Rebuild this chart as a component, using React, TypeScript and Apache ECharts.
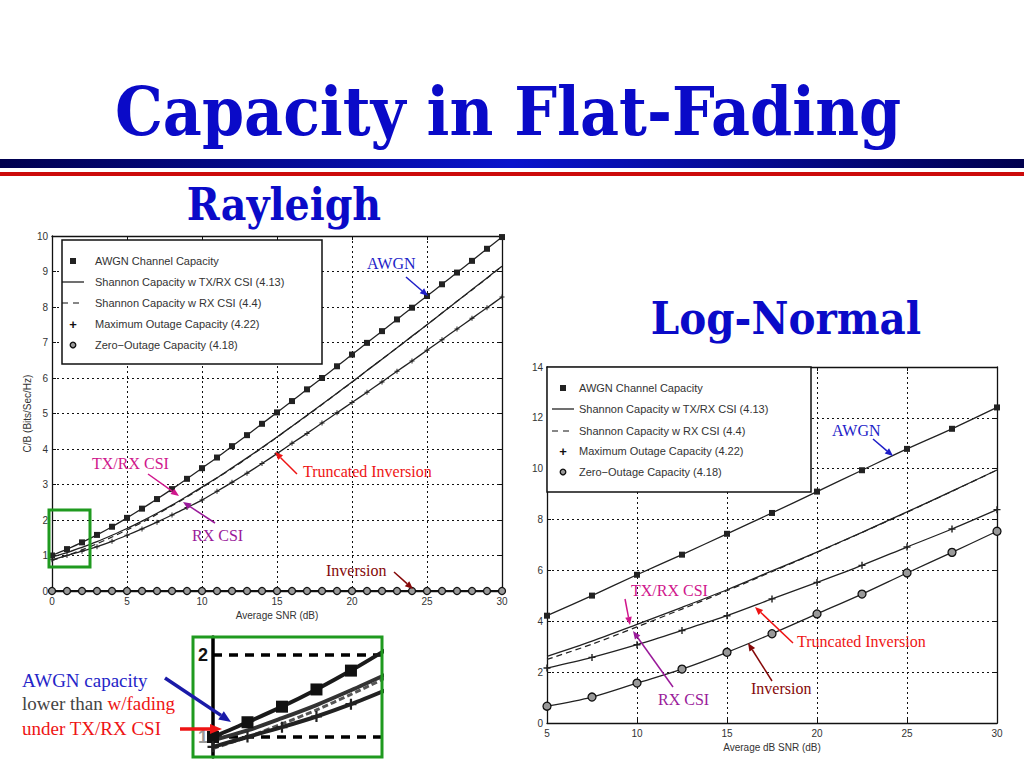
import React, { useEffect, useRef } from "react";
import * as echarts from "echarts";

// ---- Rayleigh panel: capacity (bits/s/Hz) vs average SNR (dB), one point per dB ----
const rayX = [0, 1, 2, 3, 4, 5, 6, 7, 8, 9, 10, 11, 12, 13, 14, 15, 16, 17, 18, 19, 20, 21, 22, 23, 24, 25, 26, 27, 28, 29, 30];
const rayAwgn = [1.0, 1.18, 1.37, 1.58, 1.81, 2.06, 2.32, 2.59, 2.87, 3.16, 3.46, 3.76, 4.08, 4.39, 4.71, 5.03, 5.35, 5.68, 6.0, 6.33, 6.66, 6.99, 7.32, 7.65, 7.98, 8.31, 8.64, 8.97, 9.3, 9.64, 9.97];
const rayTxRx = [0.96, 1.08, 1.23, 1.39, 1.57, 1.76, 1.97, 2.19, 2.42, 2.67, 2.93, 3.19, 3.47, 3.75, 4.04, 4.34, 4.64, 4.95, 5.26, 5.57, 5.89, 6.21, 6.53, 6.85, 7.18, 7.5, 7.83, 8.16, 8.49, 8.82, 9.15];
const rayRx = [0.86, 1.0, 1.16, 1.33, 1.52, 1.72, 1.93, 2.16, 2.4, 2.65, 2.91, 3.18, 3.45, 3.74, 4.03, 4.33, 4.64, 4.94, 5.25, 5.57, 5.88, 6.21, 6.53, 6.85, 7.17, 7.5, 7.83, 8.16, 8.48, 8.81, 9.15];
const rayOutage = [0.88, 1.0, 1.12, 1.25, 1.4, 1.57, 1.75, 1.94, 2.14, 2.35, 2.56, 2.81, 3.06, 3.32, 3.59, 3.87, 4.16, 4.44, 4.73, 5.02, 5.31, 5.6, 5.89, 6.19, 6.48, 6.78, 7.08, 7.38, 7.68, 7.98, 8.28];
const rayZero = [0, 0, 0, 0, 0, 0, 0, 0, 0, 0, 0, 0, 0, 0, 0, 0, 0, 0, 0, 0, 0, 0, 0, 0, 0, 0, 0, 0, 0, 0, 0];

// ---- Log-normal panel, markers every 2.5 dB ----
const lnX = [5, 7.5, 10, 12.5, 15, 17.5, 20, 22.5, 25, 27.5, 30];
const lnAwgn = [4.22, 5.01, 5.83, 6.62, 7.44, 8.26, 9.1, 9.94, 10.78, 11.57, 12.41];
const lnTxRx = [2.62, 3.22, 3.88, 4.55, 5.24, 5.98, 6.72, 7.5, 8.3, 9.12, 9.95];
const lnRx = [2.5, 3.1, 3.78, 4.48, 5.2, 5.95, 6.71, 7.49, 8.29, 9.11, 9.95];
const lnOutage = [2.16, 2.58, 3.08, 3.64, 4.22, 4.88, 5.53, 6.2, 6.92, 7.63, 8.39];
const lnZero = [0.66, 1.02, 1.57, 2.12, 2.78, 3.51, 4.29, 5.07, 5.9, 6.71, 7.54];

const legendLabels = [
  "AWGN Channel Capacity",
  "Shannon Capacity w TX/RX CSI (4.13)",
  "Shannon Capacity w RX CSI (4.4)",
  "Maximum Outage Capacity (4.22)",
  "Zero\u2212Outage Capacity (4.18)",
];

const PLUS = "path://M4,0H6V4H10V6H6V10H4V6H0V4H4Z";
const SANS = "Liberation Sans, Arial, sans-serif";
const SERIF = "Liberation Serif, Times New Roman, serif";
const HEAD = "DejaVu Serif Condensed, DejaVu Serif, serif";

const TITLE = "#0a0ac8";
const BLUE = "#1e1ec8";
const MAGENTA = "#d0168c";
const PURPLE = "#9a1a9a";
const RED = "#ee1414";
const DARKRED = "#850808";
const GREEN = "#1f9a1f";

const pairs = (xs: number[], ys: number[]) => xs.map((x, i) => [x, ys[i]]);

const arrow = (x1: number, y1: number, x2: number, y2: number, color: string, w = 1.5, head = 8) => {
  const a = Math.atan2(y2 - y1, x2 - x1);
  const hx = x2 - head * Math.cos(a);
  const hy = y2 - head * Math.sin(a);
  const px = Math.sin(a) * head * 0.42;
  const py = -Math.cos(a) * head * 0.42;
  return {
    type: "group",
    children: [
      { type: "line", z: 120, shape: { x1, y1, x2: hx, y2: hy }, style: { stroke: color, lineWidth: w } },
      {
        type: "polygon",
        z: 120,
        shape: { points: [[x2, y2], [hx + px, hy + py], [hx - px, hy - py]] },
        style: { fill: color },
      },
    ],
  };
};

const label = (x: number, y: number, text: string, fill: string, size = 16) => ({
  type: "text",
  x,
  y,
  z: 120,
  style: { text, fill, font: `${size}px ${SERIF}`, textVerticalAlign: "middle" },
});

const heading = (x: number, y: number, text: string, size: number) => ({
  type: "text",
  x,
  y,
  z: 120,
  style: { text, fill: TITLE, font: `bold ${size}px ${HEAD}`, textAlign: "center", textVerticalAlign: "middle" },
});

// legend box drawn the way matlab does it: white box, icon column, text column
const legendBox = (x: number, y: number, w: number, h: number, iconX: number, textX: number, rows: number[]) => {
  const children: any[] = [
    { type: "rect", z: 110, shape: { x, y, width: w, height: h }, style: { fill: "#fff", stroke: "#111", lineWidth: 1.5 } },
    { type: "rect", z: 111, shape: { x: iconX - 3, y: rows[0] - 3, width: 6, height: 6 }, style: { fill: "#222" } },
    {
      type: "line",
      z: 111,
      shape: { x1: iconX - 11, y1: rows[1], x2: iconX + 11, y2: rows[1] },
      style: { stroke: "#111", lineWidth: 1.2 },
    },
    {
      type: "line",
      z: 111,
      shape: { x1: iconX - 11, y1: rows[2], x2: iconX + 11, y2: rows[2] },
      style: { stroke: "#111", lineWidth: 1.2, lineDash: [6, 5] },
    },
    {
      type: "text",
      z: 111,
      x: iconX,
      y: rows[3],
      style: { text: "+", fill: "#111", font: `bold 13px ${SANS}`, textAlign: "center", textVerticalAlign: "middle" },
    },
    {
      type: "circle",
      z: 111,
      shape: { cx: iconX, cy: rows[4], r: 2.8 },
      style: { fill: "#999", stroke: "#111", lineWidth: 1.3 },
    },
  ];
  legendLabels.forEach((t, i) =>
    children.push({
      type: "text",
      z: 111,
      x: textX,
      y: rows[i],
      style: { text: t, fill: "#333", font: `11px ${SANS}`, textVerticalAlign: "middle" },
    }),
  );
  return { type: "group", children };
};

const axisText = { color: "#333", fontSize: 10, fontFamily: SANS };
const gridLine = { show: true, lineStyle: { color: "#111", type: [2, 3] as any, width: 1 } };
const frameLine = { show: true, onZero: false, lineStyle: { color: "#111", width: 1.3 } };
const tickIn = { show: true, inside: true, length: 4, lineStyle: { color: "#111" } };

const mainX = (gridIndex: number, min: number, max: number, name: string) => [
  {
    type: "value",
    gridIndex,
    min,
    max,
    interval: 5,
    axisLine: frameLine,
    axisTick: tickIn,
    axisLabel: { ...axisText, margin: 5 },
    splitLine: gridLine,
    name,
    nameLocation: "middle",
    nameGap: 19,
    nameTextStyle: { ...axisText },
  },
  {
    type: "value",
    gridIndex,
    position: "top",
    min,
    max,
    interval: 5,
    axisLine: frameLine,
    axisTick: tickIn,
    axisLabel: { show: false },
    splitLine: { show: false },
  },
];

const mainY = (gridIndex: number, max: number, interval: number, name: string) => [
  {
    type: "value",
    gridIndex,
    min: 0,
    max,
    interval,
    axisLine: frameLine,
    axisTick: tickIn,
    axisLabel: { ...axisText, margin: 4 },
    splitLine: gridLine,
    name,
    nameLocation: "middle",
    nameGap: 20,
    nameTextStyle: { ...axisText },
  },
  {
    type: "value",
    gridIndex,
    position: "right",
    min: 0,
    max,
    interval,
    axisLine: frameLine,
    axisTick: tickIn,
    axisLabel: { show: false },
    splitLine: { show: false },
  },
];

const curve = (name: string, data: number[][], xi: number, yi: number, extra: any = {}) => ({
  name,
  type: "line",
  xAxisIndex: xi,
  yAxisIndex: yi,
  data,
  smooth: 0.3,
  symbol: "none",
  lineStyle: { color: "#222", width: 1.3 },
  itemStyle: { color: "#222" },
  z: 5,
  ...extra,
});

const awgnMark = (size: number) => ({ symbol: "rect", symbolSize: size, showSymbol: true });
const plusMark = (size: number) => ({ symbol: PLUS, symbolSize: size, showSymbol: true });
const ringMark = (size: number) => ({
  symbol: "circle",
  symbolSize: size,
  showSymbol: true,
  itemStyle: { color: "#999", borderColor: "#111", borderWidth: 1.3 },
});

export default function App() {
  const ref = useRef<HTMLDivElement>(null);

  useEffect(() => {
    document.body.style.margin = "0";
    if (!ref.current) return;
    const chart = echarts.init(ref.current, null, { renderer: "svg" });

    const insetX = rayX.slice(0, 6);
    const inset = (ys: number[]) => pairs(insetX, ys.slice(0, 6));

    const option: any = {
      animation: false,
      backgroundColor: "#fff",
      grid: [
        { left: 52, top: 236, width: 450, height: 355 },
        { left: 547, top: 367, width: 450, height: 356 },
        { left: 213, top: 637, width: 169, height: 120 },
      ],
      xAxis: [
        ...mainX(0, 0, 30, "Average SNR (dB)"),
        ...mainX(1, 5, 30, "Average dB SNR (dB)"),
        {
          type: "value",
          gridIndex: 2,
          min: 0,
          max: 4.9,
          axisLine: { show: false },
          axisTick: { show: false },
          axisLabel: { show: false },
          splitLine: { show: false },
        },
      ],
      yAxis: [
        ...mainY(0, 10, 1, "C/B (Bits/Sec/Hz)"),
        ...mainY(1, 14, 2, ""),
        {
          type: "value",
          gridIndex: 2,
          min: 0.756,
          max: 2.22,
          axisLine: { show: true, onZero: false, lineStyle: { color: "#000", width: 3.5 } },
          axisTick: { show: false },
          axisLabel: {
            customValues: [1, 2],
            color: "#111",
            fontSize: 18,
            fontWeight: "bold",
            fontFamily: SANS,
            margin: 5,
            formatter: (v: number) => (v === 1 ? "{g|1}" : "2"),
            rich: { g: { color: "#999", fontSize: 18, fontWeight: "bold" } },
          },
          splitLine: { show: false },
        },
      ],
      series: [
        // Rayleigh
        curve("AWGN Channel Capacity", pairs(rayX, rayAwgn), 0, 0, awgnMark(6)),
        curve("Shannon Capacity w TX/RX CSI (4.13)", pairs(rayX, rayTxRx), 0, 0),
        curve("Shannon Capacity w RX CSI (4.4)", pairs(rayX, rayRx), 0, 0, {
          lineStyle: { color: "#222", width: 1.2, type: [6, 4] },
        }),
        curve("Maximum Outage Capacity (4.22)", pairs(rayX, rayOutage), 0, 0, plusMark(5)),
        curve("Zero-Outage Capacity (4.18)", pairs(rayX, rayZero), 0, 0, {
          ...ringMark(7),
          lineStyle: { color: "#111", width: 2 },
          clip: false,
        }),
        // Log-normal
        curve("AWGN Channel Capacity", pairs(lnX, lnAwgn), 2, 2, awgnMark(6)),
        curve("Shannon Capacity w TX/RX CSI (4.13)", pairs(lnX, lnTxRx), 2, 2),
        curve("Shannon Capacity w RX CSI (4.4)", pairs(lnX, lnRx), 2, 2, {
          lineStyle: { color: "#222", width: 1.2, type: [6, 4] },
        }),
        curve("Maximum Outage Capacity (4.22)", pairs(lnX, lnOutage), 2, 2, plusMark(7)),
        curve("Zero-Outage Capacity (4.18)", pairs(lnX, lnZero), 2, 2, ringMark(8)),
        // magnified corner of the Rayleigh plot
        curve("inset AWGN", inset(rayAwgn), 4, 4, {
          ...awgnMark(12),
          lineStyle: { color: "#1a1a1a", width: 4 },
          itemStyle: { color: "#111" },
          markLine: {
            silent: true,
            symbol: "none",
            label: { show: false },
            lineStyle: { color: "#000", width: 3.5, type: [9, 7] },
            data: [{ yAxis: 1 }, { yAxis: 2 }],
          },
        }),
        curve("inset TX/RX", inset(rayTxRx), 4, 4, { lineStyle: { color: "#333", width: 4 } }),
        curve("inset RX", inset(rayRx), 4, 4, { lineStyle: { color: "#555", width: 3, type: [6, 3] } }),
        curve("inset outage", inset(rayOutage), 4, 4, {
          ...plusMark(11),
          lineStyle: { color: "#222", width: 4 },
        }),
      ],
      graphic: [
        heading(508, 111, "Capacity in Flat-Fading", 67),
        {
          type: "rect",
          shape: { x: 0, y: 159, width: 1024, height: 9 },
          style: {
            fill: new echarts.graphic.LinearGradient(0, 0, 1, 0, [
              { offset: 0, color: "#00004e" },
              { offset: 0.5, color: "#0a14cc" },
              { offset: 1, color: "#00004e" },
            ]),
          },
        },
        { type: "rect", shape: { x: 0, y: 172, width: 1024, height: 4 }, style: { fill: "#cc0a0a" } },
        heading(284, 204, "Rayleigh", 44),
        heading(786, 318, "Log-Normal", 45),
        legendBox(62, 240, 260, 124, 73, 95, [261, 282, 303, 324, 345]),
        legendBox(547, 367, 264, 125, 563, 579, [388, 409, 431, 451, 472]),
        // Rayleigh annotations
        label(367, 263, "AWGN", BLUE),
        arrow(406, 277, 428, 296, BLUE),
        label(92, 463, "TX/RX CSI", MAGENTA),
        arrow(148, 474, 179, 496, MAGENTA),
        label(192, 535, "RX CSI", PURPLE),
        arrow(215, 523, 183, 502, PURPLE),
        label(303, 471, "Truncated Inversion", RED),
        arrow(297, 474, 275, 452, RED),
        label(326, 570, "Inversion", DARKRED),
        arrow(394, 572, 413, 589, DARKRED),
        { type: "rect", z: 115, shape: { x: 49, y: 510, width: 41, height: 57 }, style: { fill: "none", stroke: GREEN, lineWidth: 3 } },
        // Log-normal annotations
        label(832, 430, "AWGN", BLUE),
        arrow(873, 439, 893, 456, BLUE),
        label(631, 590, "TX/RX CSI", MAGENTA),
        arrow(625, 599, 630, 625, MAGENTA),
        label(658, 699, "RX CSI", PURPLE),
        arrow(673, 687, 633, 631, PURPLE),
        label(797, 641, "Truncated Inversion", RED),
        arrow(793, 643, 755, 607, RED),
        label(751, 688, "Inversion", DARKRED),
        arrow(772, 681, 748, 643, DARKRED),
        // inset frame and its caption
        { type: "rect", z: 115, shape: { x: 193, y: 637, width: 189, height: 120 }, style: { fill: "none", stroke: GREEN, lineWidth: 3 } },
        label(22, 680, "AWGN capacity", "#2424c8", 19),
        {
          type: "text",
          x: 22,
          y: 703,
          z: 120,
          style: {
            text: "{g|lower than }{r|w/fading}",
            font: `19px ${SERIF}`,
            textVerticalAlign: "middle",
            rich: { g: { fill: "#444", font: `19px ${SERIF}` }, r: { fill: RED, font: `19px ${SERIF}` } },
          },
        },
        label(22, 728, "under TX/RX CSI", RED, 19),
        arrow(165, 678, 231, 722, "#1a1aa8", 3.5, 12),
        arrow(180, 729, 222, 729, RED, 3.5, 12),
      ],
    };

    chart.setOption(option);
    return () => chart.dispose();
  }, []);

  return <div ref={ref} style={{ width: 1024, height: 768 }} />;
}
